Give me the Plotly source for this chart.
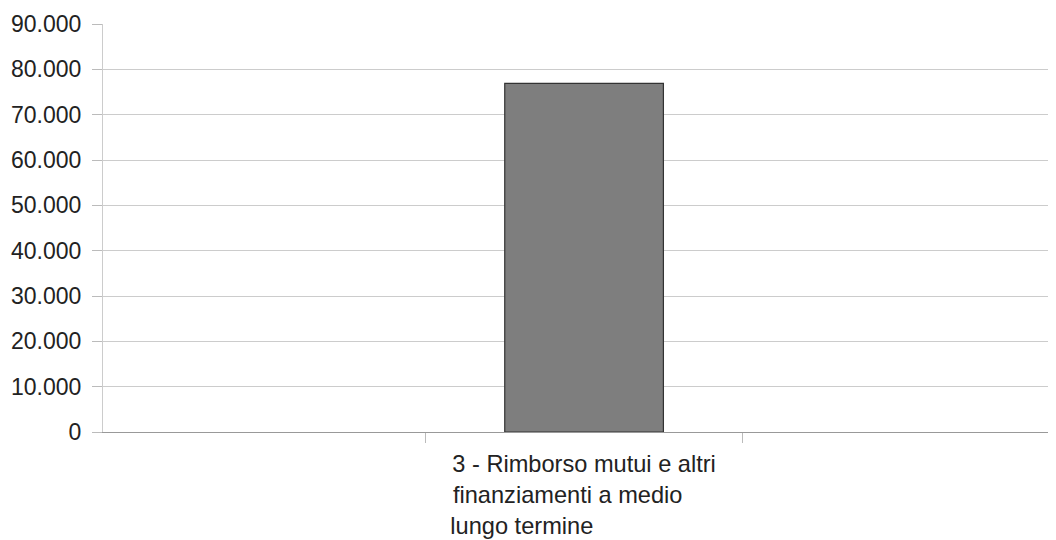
import plotly.graph_objects as go

NB = "\u00a0"
categories = ["3 - Rimborso mutui e altri finanziamenti a medio lungo termine"]
values = [76900]
tick_label_lines = ["3 - Rimborso mutui e altri", "finanziamenti a medio" + NB * 5, "lungo termine" + NB * 19]
y_ticks = [0, 10000, 20000, 30000, 40000, 50000, 60000, 70000, 80000, 90000]

fig = go.Figure()
fig.add_trace(go.Bar(
    x=categories,
    y=values,
    width=0.5,
    marker=dict(color="#7e7e7e", line=dict(color="#333333", width=1.2)),
    showlegend=False,
))

fig.update_layout(
    width=1048, height=532,
    margin=dict(l=95, r=1, t=16, b=108),
    paper_bgcolor="white", plot_bgcolor="white",
    separators=",.",
    font=dict(family="Liberation Sans, Arial, sans-serif", size=23, color="#222222"),
)
fig.update_xaxes(
    type="category",
    range=[-1.516, 1.484],
    tickvals=categories,
    ticktext=["<br>".join(tick_label_lines)],
    tickson="boundaries",
    ticks="outside", ticklen=10, tickcolor="#bbbbbb", tickwidth=1,
    showgrid=False,
    showline=True, linecolor="#999999", linewidth=1,
    zeroline=False,
    tickfont=dict(size=23.6),
    ticklabelstandoff=11,
)
fig.update_yaxes(
    range=[0, 90000],
    tickvals=y_ticks,
    tickformat=",d",
    ticks="outside", ticklen=10, tickcolor="#bbbbbb", tickwidth=1,
    showgrid=True, gridcolor="#cccccc", gridwidth=1,
    showline=True, linecolor="#cccccc", linewidth=1,
    zeroline=False,
    ticklabelstandoff=6,
)
fig.write_html("out.html")
